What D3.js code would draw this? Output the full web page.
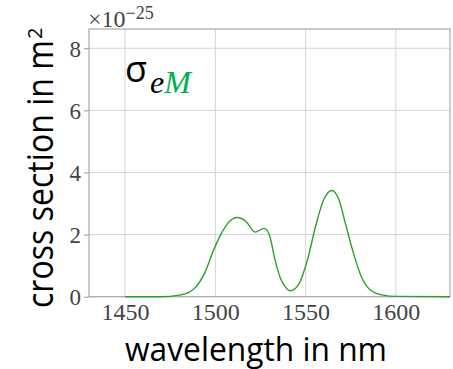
<!DOCTYPE html>
<html>
<head>
<meta charset="utf-8">
<script src="https://cdn.jsdelivr.net/npm/d3@7"></script>
<style>
  html, body { margin: 0; padding: 0; background: #fff; }
  svg { display: block; }
</style>
</head>
<body>
<svg id="chart"></svg>
<script>
// data (values in units of 1e-25 m^2)
var wavelengths = [1450, 1470, 1480, 1485, 1489, 1494, 1499, 1503, 1507, 1512,
  1517, 1522, 1527, 1530, 1533, 1536, 1538, 1541.5, 1546, 1551,
  1555.5, 1560, 1564.5, 1568.5, 1572, 1576, 1580.5, 1586, 1593, 1600, 1630];
var crossSection = [0, 0, 0.05, 0.13, 0.3, 0.75, 1.5, 2.0, 2.37, 2.55,
  2.42, 2.08, 2.2, 1.98, 1.2, 0.6, 0.38, 0.19, 0.38, 1.18,
  2.26, 3.12, 3.42, 3.12, 2.37, 1.5, 0.7, 0.21, 0.05, 0.01, 0];
var xTicks = [1450, 1500, 1550, 1600];
var yTicks = [0, 2, 4, 6, 8];

var data = wavelengths.map(function(w, i) { return {x: w, y: crossSection[i]}; });

// sizes
var fullWidth = 453;
var fullHeight = 369;
var margin = {top: 29, right: 3, bottom: 72.3, left: 89};
var width = fullWidth - margin.left - margin.right;
var height = fullHeight - margin.top - margin.bottom;

var svg = d3.select("#chart")
  .attr("width", fullWidth)
  .attr("height", fullHeight);

var g = svg.append("g")
  .attr("transform", "translate(" + margin.left + "," + margin.top + ")");

var xScale = d3.scaleLinear().domain([1430, 1630]).range([0, width]);
var yScale = d3.scaleLinear().domain([0, 8.62]).range([height, 0]);

var tickFont = "'Liberation Serif', 'DejaVu Serif', serif";
var labelFont = "'Open Sans', 'Noto Sans', sans-serif";

// grid
g.append("g").selectAll("line").data(xTicks).enter().append("line")
  .attr("x1", function(d) { return xScale(d); })
  .attr("x2", function(d) { return xScale(d); })
  .attr("y1", 0).attr("y2", height)
  .attr("stroke", "#d4d4d4").attr("stroke-width", 1);

g.append("g").selectAll("line").data(yTicks).enter().append("line")
  .attr("x1", 0).attr("x2", width)
  .attr("y1", function(d) { return yScale(d); })
  .attr("y2", function(d) { return yScale(d); })
  .attr("stroke", "#d4d4d4").attr("stroke-width", 1);

// axes
var xAxis = d3.axisBottom(xScale).tickValues(xTicks).tickSize(0).tickPadding(6)
  .tickFormat(d3.format("d"));
var yAxis = d3.axisLeft(yScale).tickValues(yTicks).tickSize(5).tickPadding(3)
  .tickFormat(d3.format("d"));

var xAxisG = g.append("g")
  .attr("transform", "translate(0," + height + ")")
  .call(xAxis);
var yAxisG = g.append("g").call(yAxis);

[xAxisG, yAxisG].forEach(function(a) {
  a.select(".domain").remove();
  a.selectAll("text")
    .attr("font-family", tickFont)
    .attr("font-size", 24)
    .attr("fill", "#444");
  a.selectAll("line").attr("stroke", "#999");
});
yAxisG.selectAll("text").attr("font-size", 23).attr("dy", "0.34em");
xAxisG.selectAll("text").attr("dy", "0.71em");

// frame
g.append("rect")
  .attr("x", 0).attr("y", 0)
  .attr("width", width).attr("height", height)
  .attr("fill", "none")
  .attr("stroke", "#aaa")
  .attr("stroke-width", 1.2);

// the curve
var line = d3.line()
  .x(function(d) { return xScale(d.x); })
  .y(function(d) { return yScale(d.y); })
  .curve(d3.curveMonotoneX);

g.append("path")
  .datum(data)
  .attr("fill", "none")
  .attr("stroke", "#2ca02c")
  .attr("stroke-width", 1.4)
  .attr("d", line);

// offset text x10^-25
var offset = svg.append("text")
  .attr("x", 88).attr("y", 27)
  .attr("font-family", tickFont)
  .attr("fill", "#444");
offset.append("tspan").attr("font-size", 24).text("\u00d710");
offset.append("tspan").attr("font-size", 18).attr("dy", -8).text("\u221225");

// sigma label
var sig = svg.append("text")
  .attr("x", 125).attr("y", 82)
  .attr("fill", "#000");
sig.append("tspan")
  .attr("font-family", labelFont)
  .attr("font-size", 36)
  .text("\u03c3");
sig.append("tspan")
  .attr("font-family", "'Liberation Serif', serif")
  .attr("font-style", "italic")
  .attr("font-size", 32)
  .attr("dx", 3)
  .attr("dy", 11)
  .text("e");
sig.append("tspan")
  .attr("font-family", "'Liberation Serif', serif")
  .attr("font-style", "italic")
  .attr("font-size", 32)
  .attr("fill", "#00b050")
  .text("M");

// axis labels (squeezed to the width of the narrow font in the picture)
svg.append("text")
  .attr("x", 125).attr("y", 361)
  .attr("font-family", labelFont)
  .attr("font-size", 33)
  .attr("fill", "#000")
  .attr("textLength", 262)
  .attr("lengthAdjust", "spacingAndGlyphs")
  .text("wavelength in nm");

svg.append("text")
  .attr("transform", "translate(53,308) rotate(-90)")
  .attr("font-family", labelFont)
  .attr("font-size", 36)
  .attr("fill", "#000")
  .attr("textLength", 268)
  .attr("lengthAdjust", "spacingAndGlyphs")
  .text("cross section in m");

svg.append("text")
  .attr("transform", "translate(42,39) rotate(-90)")
  .attr("font-family", labelFont)
  .attr("font-size", 20)
  .attr("fill", "#000")
  .text("2");
</script>
</body>
</html>
